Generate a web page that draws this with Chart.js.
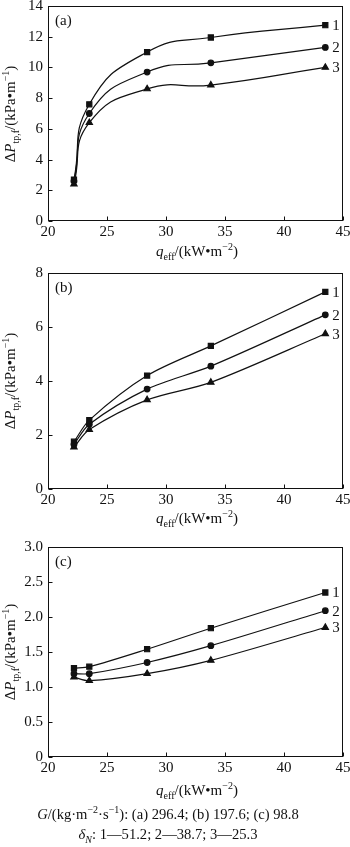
<!DOCTYPE html>
<html>
<head>
<meta charset="utf-8">
<script src="https://cdn.jsdelivr.net/npm/chart.js@4"></script>
<style>
  html, body { margin: 0; padding: 0; background: #fff; }
  body { width: 350px; height: 847px; position: relative; overflow: hidden; font-family: "Liberation Serif", "Times New Roman", serif; color: #111; }
  canvas { position: absolute; left: 0; }
  .t { position: absolute; white-space: nowrap; font-size: 15px; line-height: 1; }
  .t sub, .t sup { font-size: 10px; line-height: 0; }
  .yt { transform: translate(-50%, -50%) rotate(-90deg); }
  .xt { transform: translate(-50%, -50%); }
  .cap { position: absolute; left: 168px; transform: translate(-50%, -50%); font-size: 14.6px; line-height: 1; white-space: nowrap; }
  .cap sub, .cap sup { font-size: 10px; line-height: 0; }
</style>
</head>
<body>
<canvas id="ca" width="350" height="245" style="top:0px"></canvas>
<canvas id="cb" width="350" height="246" style="top:267px"></canvas>
<canvas id="cc" width="350" height="240" style="top:541px"></canvas>

<div class="t yt" style="left:10px;top:114px">Δ<i>P</i><sub>tp,f</sub>/(kPa•m<sup>−1</sup>)</div>
<div class="t xt" style="left:197px;top:251px"><i>q</i><sub>eff</sub>/(kW•m<sup>−2</sup>)</div>
<div class="t yt" style="left:10px;top:381px">Δ<i>P</i><sub>tp,f</sub>/(kPa•m<sup>−1</sup>)</div>
<div class="t xt" style="left:197px;top:518px"><i>q</i><sub>eff</sub>/(kW•m<sup>−2</sup>)</div>
<div class="t yt" style="left:10px;top:652px">Δ<i>P</i><sub>tp,f</sub>/(kPa•m<sup>−1</sup>)</div>
<div class="t xt" style="left:197px;top:790px"><i>q</i><sub>eff</sub>/(kW•m<sup>−2</sup>)</div>

<div class="cap" style="top:814px"><i>G</i>/(kg·m<sup>−2</sup>·s<sup>−1</sup>): (a) 296.4; (b) 197.6; (c) 98.8</div>
<div class="cap" style="top:834px"><i>δ<sub>N</sub></i>: 1—51.2; 2—38.7; 3—25.3</div>

<script>
// heat flux, kW/m2
const qEff = [22.2, 23.5, 28.4, 33.8, 43.5];

// (a) G = 296.4
const a1 = [2.7, 7.6, 11.0, 11.95, 12.75];
const a2 = [2.6, 7.0, 9.7, 10.3, 11.3];
const a3 = [2.4, 6.4, 8.6, 8.85, 10.0];

// (b) G = 197.6
const b1 = [1.75, 2.55, 4.2, 5.3, 7.3];
const b2 = [1.65, 2.4, 3.7, 4.55, 6.45];
const b3 = [1.55, 2.2, 3.3, 3.95, 5.75];

// (c) G = 98.8
const c1 = [1.27, 1.29, 1.54, 1.84, 2.35];
const c2 = [1.19, 1.19, 1.35, 1.59, 2.09];
const c3 = [1.14, 1.09, 1.19, 1.38, 1.85];

const seriesNames = ['1', '2', '3'];
const markers = ['rect', 'circle', 'triangle'];

const ink = '#111';
const font = {family: '"Liberation Serif", "Times New Roman", serif', size: 15};

const framePlugin = {
    id: 'frame',
    afterDraw(chart, args, opts) {
        const ctx = chart.ctx;
        const a = chart.chartArea;
        const l = Math.round(a.left) + 0.5, r = Math.round(a.right) - 0.5;
        const t = Math.round(a.top) + 0.5, b = Math.round(a.bottom) - 0.5;
        ctx.save();
        ctx.strokeStyle = ink;
        ctx.lineWidth = 1;
        ctx.strokeRect(l, t, r - l, b - t);
        ctx.beginPath();
        chart.scales.x.ticks.forEach(tk => {
            const x = Math.round(chart.scales.x.getPixelForValue(tk.value)) + 0.5;
            ctx.moveTo(x, b); ctx.lineTo(x, b - 4);
        });
        chart.scales.y.ticks.forEach(tk => {
            const y = Math.round(chart.scales.y.getPixelForValue(tk.value)) + 0.5;
            ctx.moveTo(l, y); ctx.lineTo(l + 4, y);
        });
        ctx.stroke();

        // panel letter and series numbers
        ctx.fillStyle = ink;
        ctx.font = '15px ' + font.family;
        ctx.textBaseline = 'middle';
        ctx.textAlign = 'left';
        ctx.fillText(opts.letter, a.left + 7, a.top + 15);
        chart.data.datasets.forEach((ds, i) => {
            const pts = chart.getDatasetMeta(i).data;
            const p = pts[pts.length - 1];
            ctx.fillText(seriesNames[i], p.x + 7, p.y + 1);
        });
        ctx.restore();
    }
};

function makePanel(id, letter, series, yMax, yStep, fmt, tension) {
    new Chart(document.getElementById(id), {
        type: 'line',
        data: {
            datasets: series.map((ys, i) => ({
                label: seriesNames[i],
                data: qEff.map((x, j) => ({x: x, y: ys[j]})),
                borderColor: ink,
                backgroundColor: ink,
                borderWidth: 1.2,
                pointStyle: markers[i],
                pointRadius: i === 1 ? 2.8 : 3.6,
                tension: tension,
                fill: false
            }))
        },
        options: {
            responsive: false,
            animation: false,
            layout: {padding: {top: 6, right: 7, left: 0, bottom: 0}},
            plugins: {legend: {display: false}, tooltip: {enabled: false}, frame: {letter: letter}},
            scales: {
                x: {
                    type: 'linear', min: 20, max: 45,
                    ticks: {stepSize: 5, color: ink, font: font, padding: 2, maxRotation: 0},
                    grid: {display: false, drawTicks: false}, border: {display: false},
                    afterFit: s => { s.height = 24; s.paddingLeft = 0; s.paddingRight = 0; }
                },
                y: {
                    min: 0, max: yMax,
                    ticks: {stepSize: yStep, color: ink, font: font, padding: 5, callback: fmt},
                    grid: {display: false, drawTicks: false}, border: {display: false},
                    afterFit: s => { s.width = 48; s.paddingTop = 0; s.paddingBottom = 0; }
                }
            }
        },
        plugins: [framePlugin]
    });
}

const intFmt = v => String(v);
const decFmt = v => v === 0 ? '0' : v.toFixed(1);

makePanel('ca', '(a)', [a1, a2, a3], 14, 2, intFmt, 0.5);
makePanel('cb', '(b)', [b1, b2, b3], 8, 2, intFmt, 0.3);
makePanel('cc', '(c)', [c1, c2, c3], 3, 0.5, decFmt, 0.3);
</script>
</body>
</html>
